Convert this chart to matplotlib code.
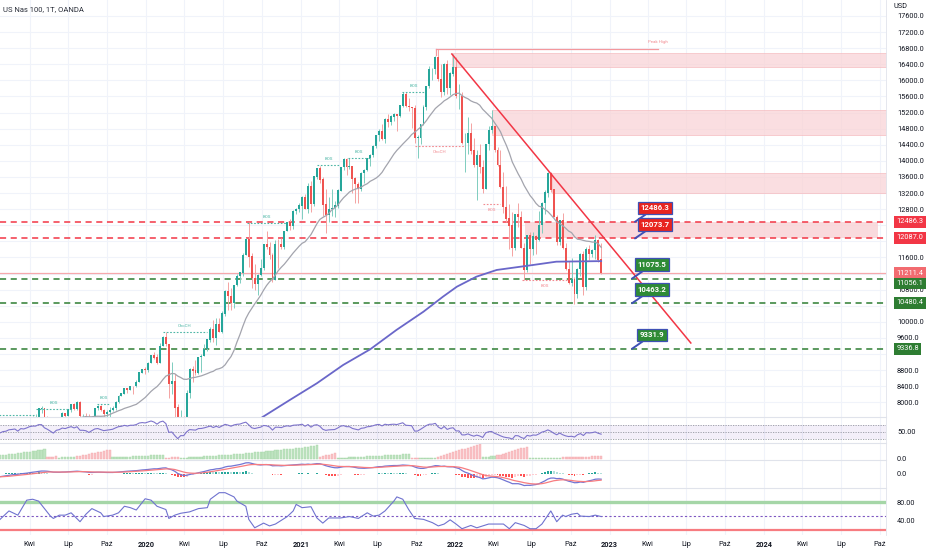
import numpy as np
import pandas as pd
import matplotlib
matplotlib.use("Agg")
import matplotlib.pyplot as plt
import matplotlib.dates as mdates
from datetime import datetime

plt.rcParams['font.family'] = ['Roboto', 'DejaVu Sans']

# weekly candles (week start Monday), first week 2018-10-01
first_open = 7630
closes = [
    7359, 7147, 7097, 6812, 6960, 7029, 6867, 6527, 6949, 6627, 6591, 6058, 6329, 6463,
    6588, 6766, 6758, 6893, 6934, 7090, 7125, 7175, 6991, 7279, 7244, 7378, 7552, 7628, 7628, 7843,
    7845, 7617, 7495, 7325, 7127, 7430, 7510, 7722, 7671, 7822, 7942, 7833, 8003, 7664, 7666, 7618,
    7436, 7640, 7852, 7905, 7803, 7705, 7750, 7802, 7853, 8010, 8162, 8213, 8343, 8297, 8403, 8401,
    8495, 8735, 8814, 8793,
    8975, 9174, 9114, 8991, 9402, 9623, 9446, 8462, 8530, 7873, 6994, 7502, 7487, 8231, 8832, 8785,
    8718, 9121, 9152, 9325, 9555, 9824, 9589, 9946, 9757, 10208, 10768, 10643, 10462, 10905, 11140,
    11220, 11656, 12041, 11622, 11087, 10938, 11154, 11336, 11919, 11852, 11666, 11052, 11938, 11937,
    11856, 12258, 12464, 12378, 12755, 12805, 12888,
    13105, 12803, 13366, 12925, 13612, 13807, 13534, 12909, 12668, 12798, 12832, 12884, 13264, 13845,
    14041, 13857, 13860, 13561, 13429, 13303, 13687, 13774, 14069, 14142, 14361, 14639, 14735, 14544,
    15042, 14959, 15097, 15155, 15112, 15375, 15652, 15364, 15333, 15313, 14567, 14580, 14897, 15336,
    15850, 16274, 16279, 16573, 16026, 15712, 16410, 15812, 16167, 16320,
    15600, 15611, 14439, 14440, 14680, 14253, 13909, 14141, 13838, 13302, 14420, 14767, 14861, 14272,
    13897, 13355, 12855, 12565, 12387, 11836, 12682, 12603, 11830, 11297, 12142, 11817, 12126, 12034,
    12396, 12948, 13207, 13700, 13283, 12605, 11993, 12527, 11834, 11311, 10972, 11050, 10692, 11311,
    11671, 10857, 11805, 11677, 11786, 12030, 11544, 11211.4,
]
highs = [
    7700, 7420, 7340, 7200, 7100, 7190, 7000, 6840, 6990, 7080, 6800, 6640, 6400, 6500,
    6640, 6790, 6790, 6960, 7030, 7100, 7170, 7220, 7180, 7300, 7420, 7400, 7560, 7650, 7700, 7860,
    7900, 7780, 7650, 7550, 7380, 7440, 7600, 7750, 7730, 7830, 7950, 7980, 8030, 8040, 7700, 7740,
    7720, 7660, 7870, 7940, 7930, 7830, 7800, 7880, 7920, 8030, 8180, 8240, 8350, 8360, 8410, 8410,
    8560, 8740, 8830, 8880,
    9000, 9180, 9260, 9210, 9470, 9640, 9740, 9300, 9000, 8700, 7950, 7800, 7670, 8300, 8860, 8900,
    9060, 9140, 9200, 9450, 9570, 9880, 10050, 10100, 10100, 10280, 10780, 10990, 10840, 10920, 11180,
    11250, 11700, 12090, 12470, 11700, 11450, 11200, 11560, 11930, 12260, 11980, 11700, 12030, 12050,
    12080, 12270, 12480, 12560, 12770, 12840, 12960,
    13140, 13180, 13460, 13490, 13630, 13820, 13880, 13600, 13300, 13100, 13300, 13000, 13310, 13860,
    14060, 14060, 14060, 13850, 13600, 13470, 13720, 13800, 14080, 14170, 14390, 14650, 14790, 14910,
    15060, 15160, 15140, 15180, 15170, 15400, 15700, 15700, 15560, 15350, 15390, 14650, 14920, 15380,
    15860, 16360, 16320, 16600, 16770, 16400, 16430, 16500, 16200, 16660,
    16570, 15910, 15700, 14700, 15090, 14950, 14570, 14270, 14420, 14030, 14430, 14870, 15270, 14870,
    14350, 14280, 13720, 13380, 12930, 12720, 12690, 12950, 12750, 11950, 12160, 12230, 12230, 12150,
    12750, 12980, 13270, 13720, 13720, 13300, 12660, 12540, 12700, 11950, 11510, 11580, 11110, 11340,
    11700, 11760, 11850, 11900, 11810, 12170, 12050, 11950,
]
lows = [
    7250, 6960, 7030, 6640, 6760, 6930, 6700, 6510, 6510, 6550, 6560, 6050, 5900, 6150,
    6400, 6510, 6600, 6700, 6830, 6900, 7060, 7060, 6900, 7000, 7230, 7190, 7380, 7520, 7580, 7620,
    7740, 7400, 7300, 7280, 7120, 6980, 7400, 7500, 7590, 7650, 7770, 7800, 7820, 7630, 7340, 7450,
    7420, 7420, 7600, 7800, 7790, 7630, 7490, 7600, 7780, 7810, 7990, 8150, 8200, 8240, 8300, 8200,
    8380, 8500, 8730, 8700,
    8750, 8970, 9070, 8950, 9000, 9390, 9410, 8110, 8200, 7280, 6910, 6770, 7300, 7600, 8100, 8500,
    8690, 8700, 8750, 9150, 9270, 9500, 9500, 9420, 9740, 9720, 10150, 10300, 10300, 10350, 10880,
    10970, 11150, 11650, 11360, 10840, 10800, 10680, 11130, 11290, 11810, 11560, 10990, 11060, 11340,
    11800, 11800, 12250, 12280, 12300, 12670, 12740,
    12560, 12800, 12700, 12720, 12880, 13560, 13440, 12630, 12210, 12470, 12620, 12600, 12840, 13260,
    13770, 13650, 13800, 13200, 12950, 12950, 13250, 13450, 13740, 13870, 14100, 14330, 14490, 14530,
    14440, 14850, 14880, 15000, 14750, 15090, 15330, 15340, 15250, 14820, 14440, 14060, 14430, 14880,
    15270, 15800, 16000, 16160, 15990, 15580, 15640, 15660, 15630, 16100,
    15570, 15300, 14420, 13730, 14170, 14170, 13860, 13020, 13700, 13200, 13300, 14280, 14690, 14230,
    13880, 13330, 12710, 12470, 11810, 11640, 11780, 12370, 11830, 11040, 11250, 11450, 11650, 11680,
    12000, 12220, 12680, 13100, 13230, 12600, 11900, 11920, 11800, 11300, 10950, 10880, 10440, 10600,
    11130, 10670, 10800, 11550, 11600, 11560, 11500, 11180,
]

# 200 MA
ma200_dates = ["2020-09-01", "2020-10-04", "2020-12-06", "2021-02-08", "2021-04-11", "2021-06-14",
               "2021-08-15", "2021-10-18", "2021-12-03", "2022-01-05", "2022-02-20", "2022-04-09",
               "2022-07-04", "2022-08-28", "2022-12-12"]
ma200_vals = [7420, 7645, 8060, 8475, 8929, 9319, 9799, 10254, 10626, 10875, 11123, 11290,
              11414, 11496, 11510]

# trend histogram, from week 16 on (+ green, - red)
trend_start = 16
trend_vals = [
    3.3, 3.6, 4.0, 4.4, 4.8, 5.2, 5.6, 6.0, 6.4, 6.8, 7.2, 7.6, 8.0, 8.5, 9.0, 9.7,
    -1.5, -1.8, -2.1, -2.5,
    1.2, 1.4, 1.6, 1.7, 1.8, 1.9,
    -2.3, -2.9, -3.5, -4.1, -4.7, -5.3, -5.9, -6.5, -7.1, -7.7, -8.3, -9.0,
    1.3, 1.5, 1.6, 1.8, 1.9, 2.1, 2.2, 2.4, 2.5, 2.7, 2.8, 3.0, 3.1, 3.3, 3.4, 3.6, 3.8, 4.0,
    -1.0, -1.2, -1.3, -1.3, -1.4,
    0.7, 0.9, 1.1, 1.3, 1.5, 1.7, 1.9, 2.1, 2.3, 2.5, 2.7, 2.9, 3.1, 3.3, 3.5, 3.7, 3.9, 4.1,
    4.3, 4.6, 4.9, 5.2, 5.5,
    5.7, 6.0, 6.3, 6.6, 6.9, 7.2, 7.5, 7.8, 8.1, 8.4, 8.7, 9.0, 9.3, 9.6, 9.9, 10.2, 10.5, 10.8,
    11.1, 11.5, 11.9, 12.3, 12.8, 13.3,
    -1.7, -2.5, -3.4, -4.2, -5.1, -6.0,
    0.7, 0.9, 1.0, 1.2, 1.4, 1.5, 1.7, 1.9, 2.0, 2.2, 2.4, 2.5, 2.7, 2.9, 3.0, 3.2, 3.4, 3.5,
    3.7, 3.9, 4.0, 4.2, 4.4, 4.7, 5.0,
    -0.8, -1.0, -1.1,
    0.6, 0.6, 0.7, 0.7, 0.8, 0.8,
    -1.7, -2.6, -3.6, -4.5, -5.5, -6.4, -7.4, -8.3, -9.3, -10.2, -11.2, -12.1, -13.1, -14.0, -15.0,
    1.9, 2.0, 2.2, 2.3, 2.4,
    -3.3, -4.2, -5.0, -5.9, -6.8, -7.7, -8.5, -9.4, -10.3, -11.1, -12.0,
    0.5, 0.6, 0.6, 0.7, 0.7, 0.7, 0.8, 0.8, 0.8, 0.9, 0.9,
    -1.3, -1.4, -1.5, -1.6, -1.7, -1.8, -1.9, -2.0, -2.1, -2.2, -2.3, -2.4, -2.5, -2.7,
]

# bottom oscillator (week index, value)
osc_week = [16, 19, 22, 25, 27, 29, 33, 34, 36, 38, 40, 43, 45, 47, 50, 51, 54, 56, 58, 60, 62,
            65, 67, 69, 72, 73, 75, 77, 80, 83, 86, 87, 90, 92, 95, 96, 99, 100, 102, 105, 107, 109,
            113, 115, 116, 118, 121, 123, 125, 127, 131, 134, 137, 140, 142, 144, 146, 149, 150,
            152, 154, 156, 159, 162, 164, 166, 168, 170, 172, 175, 177, 179, 181, 186, 188, 190,
            193, 195, 197, 199, 202, 204, 206, 207, 209, 211, 212, 215, 217, 219]
osc_val = [43, 61, 52, 84, 86, 82, 50, 45, 52, 52, 57, 38, 54, 66, 57, 49, 52, 57, 71, 68, 63,
           87, 84, 71, 64, 45, 52, 56, 59, 66, 68, 86, 100, 100, 91, 82, 71, 43, 25, 35, 29, 33,
           49, 61, 75, 68, 70, 46, 35, 46, 46, 49, 45, 57, 50, 52, 61, 82, 91,
           86, 64, 45, 43, 36, 29, 33, 42, 33, 23, 30, 25, 29, 33, 33, 23, 36,
           30, 23, 23, 33, 61, 38, 52, 49, 54, 56, 50, 49, 52, 49]

red_levels = [12486.3, 12087.0]
green_levels = [11056.1, 10480.4, 9336.8]
last_price = 11211.4

# supply zones: start date, low, high (run to the right edge)
zones = [("2021-12-24", 16330, 16675), ("2022-03-29", 14643, 15265), ("2022-08-17", 13195, 13707)]
mid_zone = ("2022-06-14", "2024-09-26", 12087.0, 12486.3)

trend_line = (("2021-12-24", 16656), ("2023-07-12", 9476))
peak_high = ("2021-11-16", "2023-04-25", 16780)

# structure marks: start, end, price, label, bullish
structure = [
    ("2018-12-01", "2019-04-12", 7690, "", True),
    ("2019-04-17", "2019-07-09", 7844, "BOS", True),
    ("2019-09-07", "2019-10-08", 7968, "BOS", True),
    ("2020-02-10", "2020-05-24", 9757, "ChoCH", True),
    ("2020-08-26", "2020-11-29", 12465, "BOS", True),
    ("2021-02-08", "2021-04-04", 13898, "BOS", True),
    ("2021-04-23", "2021-06-13", 14072, "BOS", True),
    ("2021-08-28", "2021-10-21", 15712, "BOS", True),
    ("2021-09-28", "2022-01-24", 14370, "ChoCH", False),
    ("2022-03-07", "2022-04-17", 12929, "BOS", False),
    ("2022-06-08", "2022-09-22", 11041, "BOS", False),
]

callouts = [("12486.3", "2023-03-02", 12486.3, "red"), ("12073.7", "2023-03-02", 12073.7, "red"),
            ("11075.5", "2023-02-23", 11075.5, "green"), ("10463.2", "2023-02-23", 10463.2, "green"),
            ("9331.9", "2023-02-23", 9331.9, "green")]

UP = '#26a69a'
DOWN = '#ef5350'
RED = '#f23645'
GREEN = '#2e7d32'
GRID = '#f0f3fa'
TXT = '#131722'


def d(s):
    return mdates.date2num(datetime.strptime(s, "%Y-%m-%d"))


dates = pd.date_range("2018-10-01", periods=len(closes), freq="W-MON")
xd = mdates.date2num(dates.to_pydatetime())
c = np.array(closes, dtype=float)
o = np.array([first_open] + closes[:-1], dtype=float)
h = np.maximum(np.array(highs, dtype=float), np.maximum(o, c))
l = np.minimum(np.array(lows, dtype=float), np.minimum(o, c))

s = pd.Series(c)
sma20 = s.rolling(20).mean()
delta = s.diff().fillna(0)
ag = delta.clip(lower=0).ewm(alpha=1 / 14, adjust=False).mean()
al = (-delta).clip(lower=0).ewm(alpha=1 / 14, adjust=False).mean()
rsi = 100 - 100 / (1 + ag / al)
macd = s.ewm(span=12, adjust=False).mean() - s.ewm(span=26, adjust=False).mean()
signal = macd.ewm(span=9, adjust=False).mean()
hist = macd - signal

# x mapping of the screen: 2020-01-01 sits at px 146, 154.5 px per year
X0 = d("2020-01-01") - 146 / 154.5 * 365.25
X1 = X0 + 886 / 154.5 * 365.25

fig = plt.figure(figsize=(9.32, 5.5), dpi=100)
W = 886 / 932


def pane(top, bottom):
    return fig.add_axes([0, 1 - bottom / 550, W, (bottom - top) / 550])


ax = pane(0, 417)
ax_rsi = pane(417, 443)
ax_tr = pane(443, 460)
ax_macd = pane(460, 488)
ax_osc = pane(488, 535)
axes = [ax, ax_rsi, ax_tr, ax_macd, ax_osc]

month_ticks = []
month_labels = []
for yr in range(2019, 2025):
    for m, name in [(1, str(yr)), (4, "Kwi"), (7, "Lip"), (10, "Paź")]:
        if yr == 2019 and m == 1:
            continue
        month_ticks.append(d(f"{yr}-{m:02d}-01"))
        month_labels.append(name)

for a in axes:
    a.set_xlim(X0, X1)
    a.set_xticks(month_ticks)
    a.grid(True, axis='x', color=GRID, lw=0.8)
    a.set_axisbelow(True)
    a.yaxis.tick_right()
    a.tick_params(axis='y', length=0, labelsize=5.3, labelcolor=TXT, pad=8)
    a.tick_params(axis='x', length=0, labelbottom=False)
    for sp in ['left', 'bottom']:
        a.spines[sp].set_visible(False)
    a.spines['top'].set_color('#e0e3eb')
    a.spines['right'].set_color('#e0e3eb')
    a.spines['top'].set_linewidth(0.8)
    a.spines['right'].set_linewidth(0.6)
ax.spines['top'].set_visible(False)

# ---- main price pane
ax.set_ylim(7637, 17997.5)
price_ticks = np.arange(8000, 17601, 400)
hidden = {12400, 12000, 11200, 10400, 9200}
ax.set_yticks(price_ticks)
ax.set_yticklabels(["" if p in hidden else f"{p:.1f}" for p in price_ticks])
ax.grid(True, axis='y', color=GRID, lw=0.8)

for start, lo, hi in zones:
    ax.fill_between([d(start), X1 + 30], lo, hi, color='#f9d4d7', alpha=0.75, lw=0.6,
                    edgecolor='#f5b7bb', zorder=1)
ax.fill_between([d(mid_zone[0]), d(mid_zone[1])], mid_zone[2], mid_zone[3], color='#f9d4d7',
                alpha=0.85, lw=0, zorder=1)

ax.axhline(last_price, color='#f7a8ac', lw=0.9, zorder=1)
for lv in red_levels:
    ax.axhline(lv, color=RED, lw=1.1, ls=(0, (4, 3)), zorder=2)
for lv in green_levels:
    ax.axhline(lv, color='#2e7d32', lw=1.1, ls=(0, (4, 3)), zorder=2)

up = c >= o
col = np.where(up, UP, DOWN)
wick_col = np.where(up, '#7fcdbf', '#f4a3a2')
ax.vlines(xd, l, h, colors=wick_col, lw=0.7, zorder=3)
ax.bar(xd, np.abs(c - o) + 8, bottom=np.minimum(o, c), width=4.6, color=col, lw=0, zorder=4)

ax.plot(xd, sma20, color='#a3a4ad', lw=0.9, zorder=5)
ax.plot([d(t) for t in ma200_dates], ma200_vals, color='#6a67c9', lw=1.3, zorder=5)

(t0, p0), (t1, p1) = trend_line
ax.plot([d(t0), d(t1)], [p0, p1], color=RED, lw=1.1, zorder=6)

ax.plot([d(peak_high[0]), d(peak_high[1])], [peak_high[2]] * 2, color='#f4979c', lw=0.9, zorder=6)
ax.plot([d(peak_high[0])] * 2, [peak_high[2], peak_high[2] - 150], color='#f4979c', lw=0.9, zorder=6)
ax.annotate("Peak High", (d(peak_high[1]), peak_high[2]), xytext=(0, 3.5), textcoords='offset points',
            ha='center', va='bottom', fontsize=3.2, color='#f28a90')

for start, end, price, label, bull in structure:
    cc = '#4db6a6' if bull else '#f28a90'
    ax.plot([d(start), d(end)], [price, price], color=cc, lw=0.8, ls=(0, (1.5, 1.5)), zorder=6)
    if label:
        mid = (d(start) + d(end)) / 2
        ax.annotate(label, (mid, price), xytext=(0, 3 if bull else -3), textcoords='offset points',
                    ha='center', va='bottom' if bull else 'top', fontsize=3.2, color=cc)

for text, when, price, kind in callouts:
    fc = '#e8241f' if kind == 'red' else '#2e8b35'
    ax.annotate(text, (d(when), price), xytext=(14.5, 10), textcoords='offset points',
                ha='center', va='center', fontsize=5.6, fontweight='bold', color='white',
                bbox=dict(boxstyle='square,pad=0.35', fc=fc, ec='#3f51b5', lw=0.9),
                arrowprops=dict(arrowstyle='-', color='#3f51b5', lw=1.4, shrinkA=0, shrinkB=0),
                zorder=8)

tags = [(red_levels[0], "12486.3", RED), (red_levels[1], "12087.0", RED),
        (last_price, "11211.4", '#f26b70'), (10949, "11056.1", GREEN),
        (10470, "10480.4", GREEN), (9327, "9336.8", GREEN)]
for y, text, fc in tags:
    ax.annotate(text, (1.0, y), xycoords=('axes fraction', 'data'), xytext=(7.6, 0),
                textcoords='offset points', ha='left', va='center', fontsize=5.3, color='white',
                bbox=dict(boxstyle='square,pad=0.3', fc=fc, ec='none'), annotation_clip=False,
                zorder=9)

# ---- RSI pane
ax_rsi.set_ylim(17.7, 92)
ax_rsi.axhspan(30, 70, color='#7e57c2', alpha=0.09, lw=0)
for lv in (70, 50, 30):
    ax_rsi.axhline(lv, color='#9598a1', lw=0.6, ls=(0, (1.5, 1.5)))
ax_rsi.plot(xd, rsi, color='#7e74cc', lw=0.8)
ax_rsi.set_yticks([50])
ax_rsi.set_yticklabels(["50.00"])

# ---- trend histogram pane
tv = np.array(trend_vals)
tx = xd[trend_start:trend_start + len(tv)]
ax_tr.set_ylim(-1.3, 15.7)
ax_tr.bar(tx, np.abs(tv), width=5.2, color=np.where(tv > 0, '#bfe3c1', '#f9c3c6'),
          edgecolor=np.where(tv > 0, '#a5d6a7', '#f5a9ae'), lw=0.3)
ax_tr.set_yticks([0])
ax_tr.set_yticklabels(["0.0"])

# ---- MACD pane
ax_macd.set_ylim(-980, 980)
hv = hist.values
prev = np.concatenate([[0], hv[:-1]])
hcol = np.where(hv >= 0, np.where(hv >= prev, '#26a69a', '#b2dfdb'),
                np.where(hv < prev, '#ff5252', '#ffcdd2'))
ax_macd.bar(xd, hv, width=4.6, color=hcol, lw=0)
ax_macd.plot(xd, macd, color='#7275d3', lw=0.9)
ax_macd.plot(xd, signal, color='#f77c80', lw=0.9)
ax_macd.set_yticks([0])
ax_macd.set_yticklabels(["0.0"])

# ---- oscillator pane
ax_osc.set_ylim(9.6, 110)
ax_osc.axhline(80, color='#a5d6a7', lw=2.4)
ax_osc.axhline(50, color='#7e57c2', lw=0.8, ls=(0, (2, 2)))
ax_osc.axhline(20, color='#f77c80', lw=1.6)
ax_osc.plot(xd[osc_week], osc_val, color='#6f72cf', lw=0.8)
ax_osc.set_yticks([80, 40])
ax_osc.set_yticklabels(["80.00", "40.00"])
ax_osc.tick_params(axis='x', labelbottom=True, labelsize=5.3, labelcolor=TXT, pad=4)
ax_osc.set_xticklabels(month_labels)
for lab in ax_osc.get_xticklabels():
    if lab.get_text().isdigit():
        lab.set_fontweight('bold')

fig.text(3 / 932, 1 - 9 / 550, "US Nas 100, 1T, OANDA", fontsize=5.5, color='#2a2e39', va='center')
fig.text(893 / 932, 1 - 7 / 550, "USD", fontsize=5.3, color=TXT, va='center')

fig.savefig("out.png", dpi=100)
